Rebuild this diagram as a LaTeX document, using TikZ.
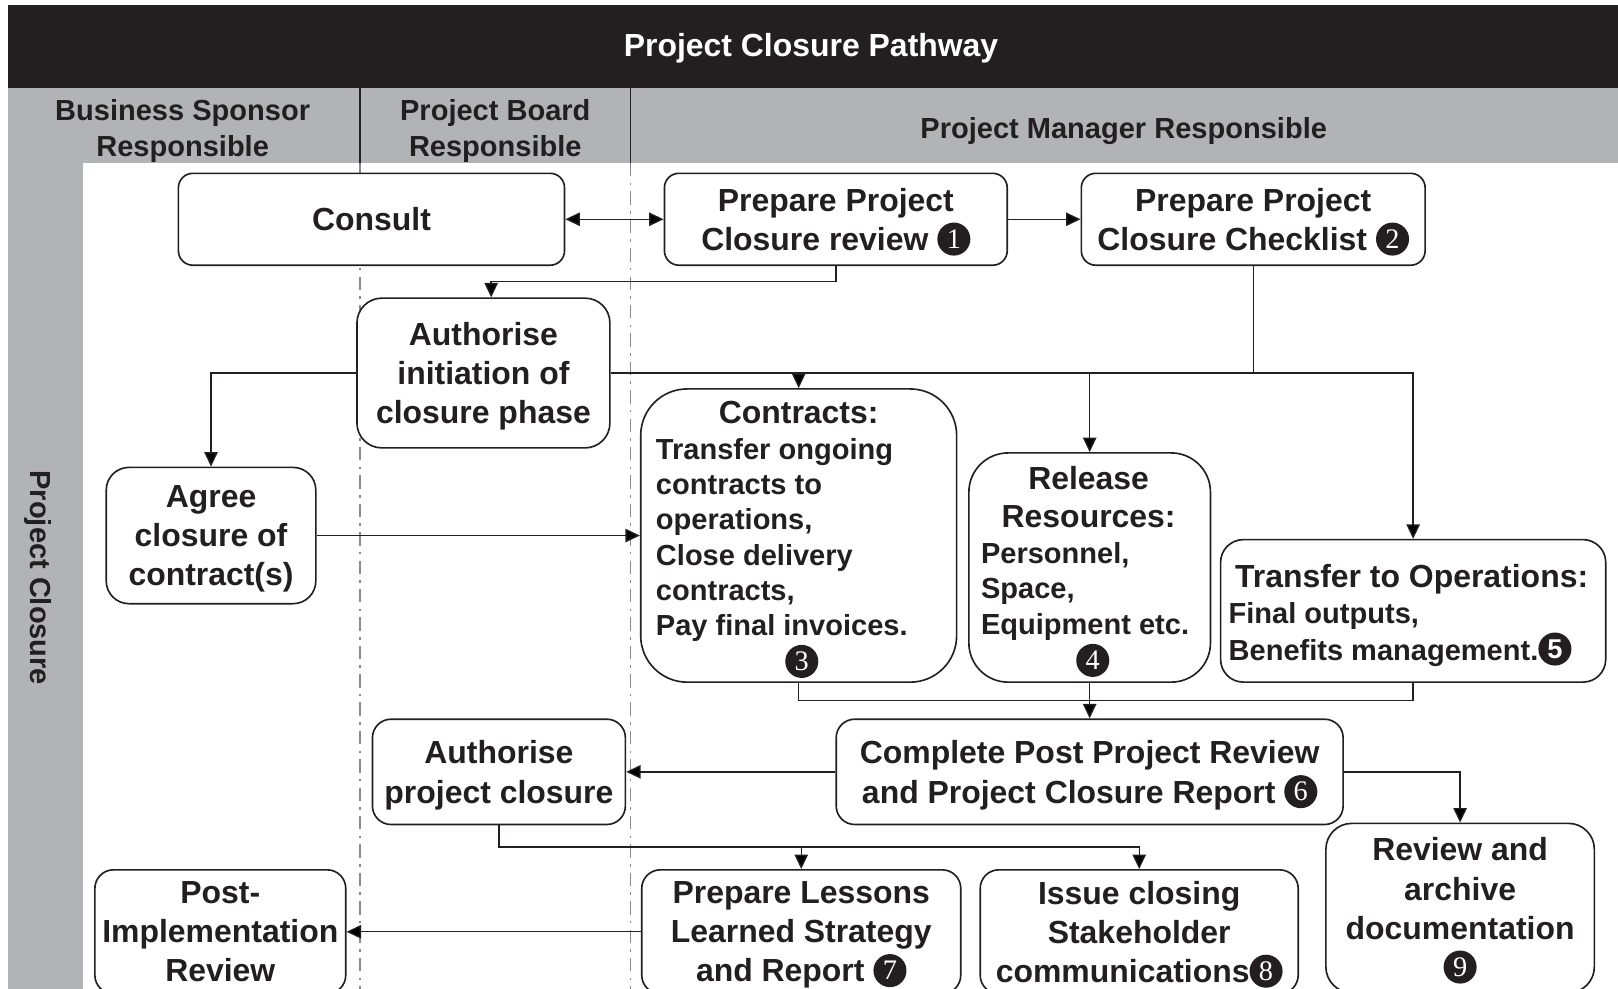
\documentclass[tikz,border=0pt]{standalone}
\usepackage{fontspec}
\setmainfont{Liberation Sans}
\newfontfamily\digitserif{Liberation Serif}
\usetikzlibrary{arrows.meta}

\definecolor{ink}{HTML}{231F20}
\definecolor{band}{HTML}{B1B3B6}
\definecolor{lane}{HTML}{8A8A8C}

% text sizes: box titles and box body lines
\newcommand\cardfont{\bfseries\fontsize{8.8}{10.8}\selectfont}
\newcommand\bodyfont{\bfseries\fontsize{8}{9.7}\selectfont}
\newcommand\headfont{\bfseries\fontsize{8}{9.7}\selectfont}

\tikzset{
  card/.style={draw=ink, line width=0.45pt, fill=white, rounded corners=#1,
               align=center, inner sep=0pt, text depth=0pt, font=\cardfont, text=ink},
  card/.default=0.18cm,
  txt/.style={inner sep=0pt, font=\cardfont, text=ink},
  body/.style={inner sep=0pt, font=\bodyfont, text=ink},
  head/.style={inner sep=0pt, font=\headfont, text=ink, align=center, text depth=0pt},
  conn/.style={draw=ink, line width=0.38pt},
  arr/.style={-{Triangle[length=1.4mm,width=1.3mm]}},
  darr/.style={{Triangle[length=1.4mm,width=1.3mm]}-{Triangle[length=1.4mm,width=1.3mm]}},
  lanesep/.style={draw=lane, line width=0.4pt,
                  dash pattern=on 0.13cm off 0.06cm on 0.025cm off 0.06cm},
  badgenode/.style={circle, fill=ink, text=white, inner sep=0pt, minimum size=0.32cm,
                    font=\digitserif\mdseries\fontsize{7.8}{8}\selectfont},
}

% numbered black discs set inline with a line of text
\newcommand\badge[1]{\tikz[baseline={([yshift=-0.11cm]bd.center)}]\node[badgenode] (bd) {#1};}
\newcommand\badgesans[1]{\tikz[baseline={([yshift=-0.11cm]bd.center)}]\node[badgenode,font=\bfseries\fontsize{7.5}{8}\selectfont] (bd) {#1};}

\begin{document}
\begin{tikzpicture}[x=0.01cm, y=-0.01cm]
\useasboundingbox (0,0) rectangle (1568,958);

% title band, lane header band and the left phase column
\fill[ink] (8,5) rectangle (1568,85);
\fill[band] (8,85) rectangle (1568,158);
\fill[band] (8,158) rectangle (80,958);

\node[inner sep=0pt, font=\bfseries\fontsize{8.8}{10}\selectfont, text=white, anchor=base] (title) at (786,55) {Project Closure Pathway};

\node[head] (hsponsor) at (177,124) {Business Sponsor\\Responsible};
\node[head] (hboard) at (480,124) {Project Board\\Responsible};
\node[head] (hmanager) at (1089,124) {Project Manager Responsible};

\node[head, rotate=-90] (phase) at (40,560) {Project Closure};

% lane separators
\draw[ink, line width=0.45pt] (349,85) -- (349,158);
\draw[ink, line width=0.45pt] (611,85) -- (611,158);
\draw[lanesep] (349,158) -- (349,958);
\draw[lanesep] (611,158) -- (611,958);

% activity boxes
\node[card=0.14cm, minimum width=3.74cm, minimum height=0.89cm] (consult) at (360,212.5) {Consult};
\node[card=0.14cm, minimum width=3.32cm, minimum height=0.89cm] (review) at (810,212.5) {Prepare Project\\Closure review \badge{1}};
\node[card=0.14cm, minimum width=3.33cm, minimum height=0.89cm] (checklist) at (1214.5,212.5) {Prepare Project\\Closure Checklist \badge{2}};
\node[card=0.24cm, minimum width=2.45cm, minimum height=1.45cm] (authinit) at (468.5,361.5) {Authorise\\initiation of\\closure phase};
\node[card=0.22cm, minimum width=2.03cm, minimum height=1.32cm] (agree) at (204.5,519) {Agree\\closure of\\contract(s)};
\node[card=0.45cm, minimum width=3.06cm, minimum height=2.84cm] (contracts) at (774,519) {};
\node[card=0.38cm, minimum width=2.34cm, minimum height=2.22cm] (release) at (1056,550) {};
\node[card=0.22cm, minimum width=3.73cm, minimum height=1.38cm] (transfer) at (1369.5,592) {};
\node[card, minimum width=4.91cm, minimum height=1.02cm] (complete) at (1056,748) {Complete Post Project Review\\and Project Closure Report \badge{6}};
\node[card, minimum width=2.45cm, minimum height=1.02cm] (authclose) at (483.5,748) {Authorise\\project closure};
\node[card=0.25cm, minimum width=2.60cm, minimum height=1.64cm] (archive) at (1415,880) {Review and\\archive\\documentation\\\badge{9}};
\node[card, minimum width=2.43cm, minimum height=1.20cm] (pir) at (213.5,903) {Post-\\Implementation\\Review};
\node[card, minimum width=3.09cm, minimum height=1.20cm] (lessons) at (776.5,903) {Prepare Lessons\\Learned Strategy\\and Report \badge{7}};
\node[card, minimum width=3.08cm, minimum height=1.20cm] (issue) at (1104,903) {Issue closing\\Stakeholder\\communications\badge{8}};

% contracts box text
\node[txt, anchor=base] (ct0) at (774,410) {Contracts:};
\node[body, anchor=base west] (ct1) at (635,445) {Transfer ongoing};
\node[body, anchor=base west] (ct2) at (635,479) {contracts to};
\node[body, anchor=base west] (ct3) at (635,513) {operations,};
\node[body, anchor=base west] (ct4) at (635,548) {Close delivery};
\node[body, anchor=base west] (ct5) at (635,582) {contracts,};
\node[body, anchor=base west] (ct6) at (635,616) {Pay final invoices.};
\node[badgenode] (b3) at (777,641) {3};

% release box text
\node[txt, anchor=base] (rl1) at (1055,474) {Release};
\node[txt, anchor=base] (rl2) at (1055,511) {Resources:};
\node[body, anchor=base west] (rl3) at (950,546) {Personnel,};
\node[body, anchor=base west] (rl4) at (950,580) {Space,};
\node[body, anchor=base west] (rl5) at (950,615) {Equipment etc.};
\node[badgenode] (b4) at (1059,640) {4};

% transfer box text
\node[txt, anchor=base] (tr1) at (1368,569) {Transfer to Operations:};
\node[body, anchor=base west] (tr2) at (1190,604) {Final outputs,};
\node[body, anchor=base west] (tr3) at (1190,640) {Benefits management.\badgesans{5}};

% connectors
\draw[conn, darr] (consult.east) -- (review.west);
\draw[conn, arr] (review.east) -- (checklist.west);
\coordinate (j1) at (476,273);
\draw[conn, arr] (review.south) |- (j1) -- (j1 |- authinit.north);
\draw[conn, arr] (authinit.west) -| (agree.north);
\draw[conn, arr] (authinit.east) -| (transfer.north);
\draw[conn, arr] (contracts.north |- authinit.east) -- (contracts.north);
\draw[conn, arr] (release.north |- authinit.east) -- (release.north);
\draw[conn] (checklist.south) -- (checklist.south |- authinit.east);
\draw[conn, arr] (agree.east) -- (contracts.west);
\coordinate (j2) at (1056,679);
\draw[conn] (contracts.south) |- (j2) -| (transfer.south);
\draw[conn, arr] (release.south) -- (complete.north);
\draw[conn, arr] (complete.west) -- (authclose.east);
\draw[conn, arr] (complete.east) -| (archive.north);
\coordinate (j3) at (483.5,821);
\draw[conn, arr] (authclose.south) -- (j3) -| (issue.north);
\draw[conn, arr] (lessons.north |- j3) -- (lessons.north);
\draw[conn, arr] (lessons.west) -- (pir.east);
\end{tikzpicture}
\end{document}
